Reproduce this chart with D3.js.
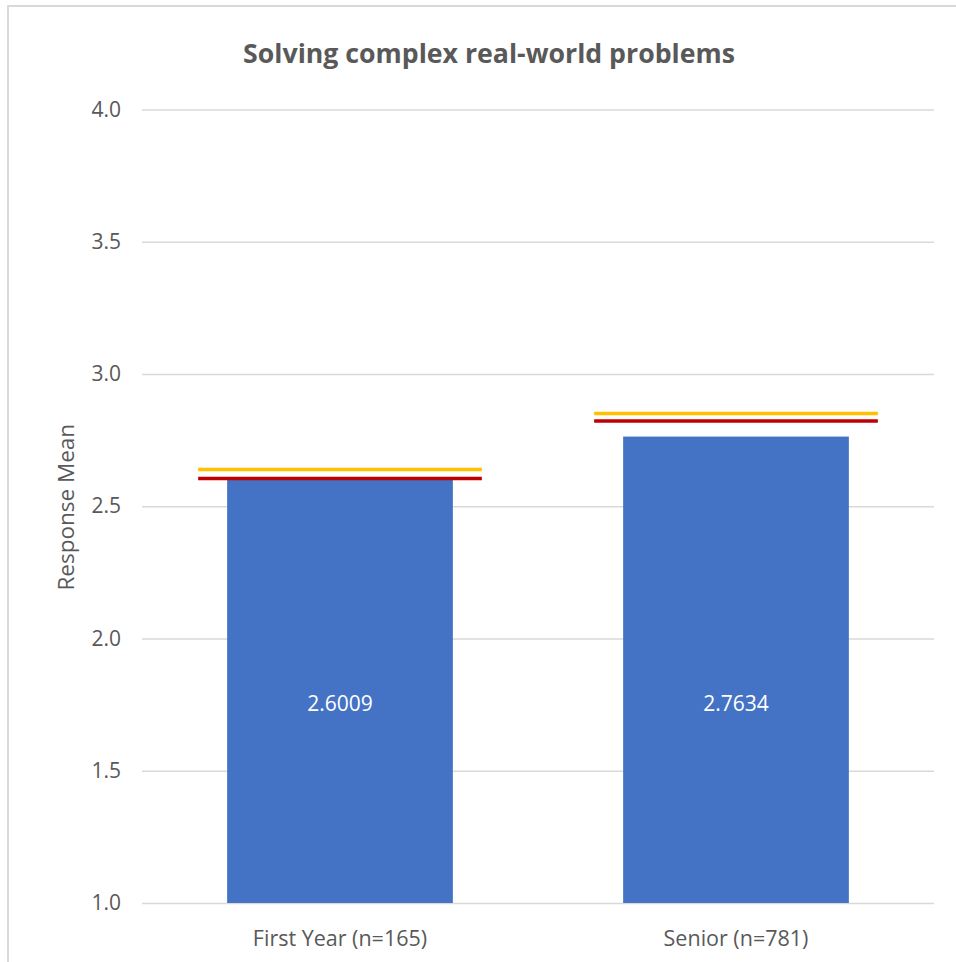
<!DOCTYPE html>
<html>
<head>
<meta charset="utf-8">
<script src="https://cdn.jsdelivr.net/npm/d3@7"></script>
<style>
  html, body { margin: 0; padding: 0; background: #fff; }
  svg { display: block; }
  text { font-family: "Open Sans", "Noto Sans", "Liberation Sans", sans-serif; fill: #595959; }
</style>
</head>
<body>
<svg id="chart" width="956" height="962"></svg>
<script>
const title = "Solving complex real-world problems";
const yAxisLabel = "Response Mean";
const categories = ["First Year (n=165)", "Senior (n=781)"];
const means = [2.6009, 2.7634];
const meanLabels = ["2.6009", "2.7634"];
const benchmarkYellow = [2.639, 2.851];
const benchmarkRed = [2.605, 2.822];
const yTicks = [1.0, 1.5, 2.0, 2.5, 3.0, 3.5, 4.0];

const svg = d3.select("#chart");
const W = 956, H = 962;

// chart border
svg.append("rect")
  .attr("x", 8).attr("y", 6)
  .attr("width", W + 10).attr("height", H + 10)
  .attr("fill", "#fff").attr("stroke", "#d9d9d9").attr("stroke-width", 2);

const plot = { left: 142, right: 934, top: 109.5, bottom: 903 };

const x = d3.scaleBand()
  .domain(categories)
  .range([plot.left, plot.right])
  .paddingInner(0.43)
  .paddingOuter(0.215);

const y = d3.scaleLinear()
  .domain([1, 4])
  .range([plot.bottom, plot.top]);

// gridlines
const yAxis = d3.axisLeft(y)
  .tickValues(yTicks)
  .tickFormat(d3.format(".1f"))
  .tickSize(-(plot.right - plot.left))
  .tickPadding(21);

const gy = svg.append("g")
  .attr("transform", `translate(${plot.left},0)`)
  .call(yAxis);
gy.select(".domain").remove();
gy.selectAll(".tick line").attr("stroke", "#d9d9d9").attr("stroke-width", 1.5);
gy.selectAll(".tick text")
  .attr("fill", "#595959")
  .style("font-size", "21px");

// bars
svg.append("g").selectAll("rect")
  .data(categories)
  .join("rect")
  .attr("x", d => x(d))
  .attr("width", x.bandwidth())
  .attr("y", (d, i) => y(means[i]))
  .attr("height", (d, i) => y(1) - y(means[i]))
  .attr("fill", "#4472C4");

// benchmark lines
function benchLines(vals, color) {
  svg.append("g").selectAll("line")
    .data(categories)
    .join("line")
    .attr("x1", d => x(d) - 29)
    .attr("x2", d => x(d) + x.bandwidth() + 29)
    .attr("y1", (d, i) => y(vals[i]))
    .attr("y2", (d, i) => y(vals[i]))
    .attr("stroke", color)
    .attr("stroke-width", 3.5);
}
benchLines(benchmarkYellow, "#FFC000");
benchLines(benchmarkRed, "#C00000");

// data labels
svg.append("g").selectAll("text")
  .data(categories)
  .join("text")
  .attr("x", d => x(d) + x.bandwidth() / 2)
  .attr("y", y(1) - 200)
  .attr("text-anchor", "middle")
  .attr("dominant-baseline", "central")
  .style("font-size", "21px")
  .style("fill", "#ffffff")
  .text((d, i) => meanLabels[i]);

// category labels
svg.append("g").selectAll("text")
  .data(categories)
  .join("text")
  .attr("x", d => x(d) + x.bandwidth() / 2)
  .attr("y", 937)
  .attr("text-anchor", "middle")
  .attr("dominant-baseline", "central")
  .style("font-size", "21.5px")
  .text(d => d);

// y axis title
svg.append("text")
  .attr("transform", `translate(65,${(plot.top + plot.bottom) / 2 + 1}) rotate(-90)`)
  .attr("text-anchor", "middle")
  .attr("dominant-baseline", "central")
  .style("font-size", "22.5px")
  .text(yAxisLabel);

// title
svg.append("text")
  .attr("x", 489)
  .attr("y", 52)
  .attr("text-anchor", "middle")
  .attr("dominant-baseline", "central")
  .style("font-size", "26.7px")
  .style("font-weight", "bold")
  .text(title);
</script>
</body>
</html>
